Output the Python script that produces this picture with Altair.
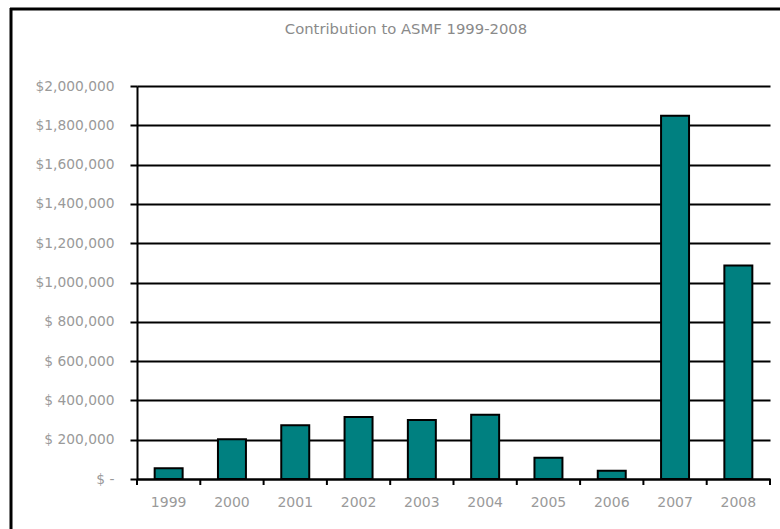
import altair as alt
import pandas as pd

years = ["1999", "2000", "2001", "2002", "2003", "2004", "2005", "2006", "2007", "2008"]
contributions = [55000, 202000, 273000, 315000, 300000, 327000, 108000, 42000, 1848000, 1087000]
y_ticks = [0, 200000, 400000, 600000, 800000, 1000000, 1200000, 1400000, 1600000, 1800000, 2000000]
title_text = "Contribution to ASMF 1999-2008"

df = pd.DataFrame({"year": years, "value": contributions})

FONT = "DejaVu Sans"
PAD_INNER = 0.558
PLOT_W = 633
STEP = PLOT_W / len(years)
GAP_HALF = STEP * PAD_INNER / 2

label_expr = (
    "datum.value == 0 ? '$ -' : (datum.value >= 1000000 ? '$' + format(datum.value, ',') "
    ": '$ ' + format(datum.value, ','))"
)

xscale = alt.Scale(paddingInner=PAD_INNER, paddingOuter=PAD_INNER / 2)
xaxis = alt.Axis(
    title=None, labelAngle=0, ticks=False, domainColor="black", domainWidth=2,
    labelColor="#9a9a9a", labelFont=FONT, labelFontSize=14, labelPadding=16,
    grid=False,
)

bars = alt.Chart(df).mark_bar(
    color="#008080", stroke="black", strokeWidth=2
).encode(
    x=alt.X("year:N", sort=years, scale=xscale, axis=xaxis),
    y=alt.Y(
        "value:Q",
        scale=alt.Scale(domain=[0, 2000000], nice=False),
        axis=alt.Axis(
            title=None, values=y_ticks, labelExpr=label_expr, tickSize=7,
            tickColor="black", tickWidth=2, domainColor="black", domainWidth=2,
            gridColor="black", gridWidth=2, grid=True,
            labelColor="#9a9a9a", labelFont=FONT, labelFontSize=13.8, labelPadding=16,
        ),
    ),
)

# category boundary ticks below the x axis
xticks = alt.Chart(df).mark_rule(color="black", strokeWidth=2, xOffset=-GAP_HALF).encode(
    x=alt.X("year:N", sort=years, scale=xscale, bandPosition=0, axis=xaxis),
    y=alt.value(393),
    y2=alt.value(399),
)
end_tick = alt.Chart(pd.DataFrame({"k": [1]})).mark_rule(color="black", strokeWidth=2).encode(
    x=alt.value(PLOT_W), y=alt.value(393), y2=alt.value(399)
)

title_df = pd.DataFrame({"t": [title_text]})
title = alt.Chart(title_df).mark_text(
    font=FONT, fontSize=14.8, color="#8a8a8a", align="center", baseline="middle"
).encode(text="t:N", x=alt.value(269), y=alt.value(-56))

frame_df = pd.DataFrame({"k": [1]})
frame_top = alt.Chart(frame_df).mark_rule(color="black", strokeWidth=3).encode(
    x=alt.value(-127), x2=alt.value(700), y=alt.value(-77)
)
frame_left = alt.Chart(frame_df).mark_rule(color="black", strokeWidth=3).encode(
    x=alt.value(-126), y=alt.value(-78), y2=alt.value(500)
)

chart = alt.layer(bars, xticks, end_tick, title, frame_top, frame_left).properties(
    width=PLOT_W, height=393,
    autosize=alt.AutoSizeParams(type="none"),
    padding={"left": 137, "top": 86, "right": 10, "bottom": 50},
    background="white",
).configure_view(stroke=None)

chart.save("out.html", embed_options={"renderer": "svg", "actions": False})
